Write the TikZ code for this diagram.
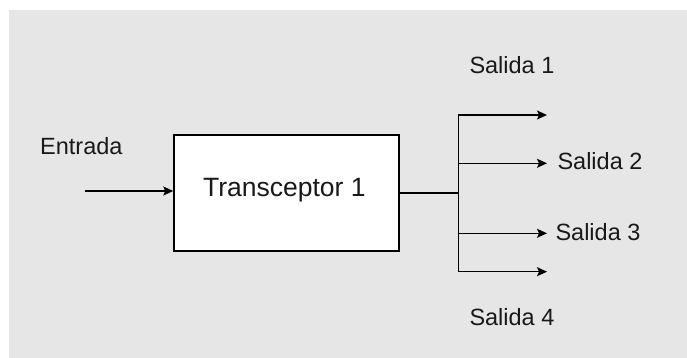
\documentclass[tikz,border=0pt]{standalone}
\usepackage{fontspec}
\setmainfont{Liberation Sans}
\usetikzlibrary{arrows.meta}
\definecolor{bggray}{HTML}{E6E6E6}
\tikzset{
  conn/.style={line width=1.3pt, draw=black},
  arr/.style={conn, -{Stealth[length=10pt, width=9pt, inset=2pt]}},
  blockbox/.style={draw=black, line width=1.5pt, fill=white, minimum width=225pt, minimum height=116pt, inner sep=0pt},
  lbl/.style={anchor=base west, inner sep=0pt, font=\fontsize{23.5}{28}\selectfont, text=black!90},
  boxlbl/.style={anchor=base, inner sep=0pt, font=\fontsize{26.5}{32}\selectfont, text=black!90}
}
\begin{document}
\begin{tikzpicture}[x=1pt, y=-1pt]
\useasboundingbox (0,0) rectangle (687,358);
\fill[white] (0,0) rectangle (687,358);
\fill[bggray] (9,10) rectangle (687,358);

\node[blockbox] (box) at (286.5,193) {};
\node[boxlbl] (boxtext) at (284.3,196) {Transceptor 1};

\node[lbl] (entrada) at (40,154) {Entrada};
\coordinate (in) at (85,191);
\draw[arr] (in) -- (in -| box.west);

\coordinate (j0) at (458.3,193);
\coordinate (j1) at (458.3,115);
\coordinate (j2) at (458.3,163.3);
\coordinate (j3) at (458.3,233.3);
\coordinate (j4) at (458.3,271.7);
\coordinate (t1) at (547,115);
\coordinate (t2) at (547,163.3);
\coordinate (t3) at (547,233.3);
\coordinate (t4) at (547,271.7);

\draw[conn] (box.east |- j0) -- (j0);
\draw[conn] (j1) -- (j4);
\draw[arr] (j1) -- (t1);
\draw[arr] (j2) -- (t2);
\draw[arr] (j3) -- (t3);
\draw[arr] (j4) -- (t4);

\node[lbl] (s1) at (469.3,74) {Salida 1};
\node[lbl] (s2) at (557.3,170) {Salida 2};
\node[lbl] (s3) at (555.3,240.7) {Salida 3};
\node[lbl] (s4) at (469.3,325) {Salida 4};
\end{tikzpicture}
\end{document}
